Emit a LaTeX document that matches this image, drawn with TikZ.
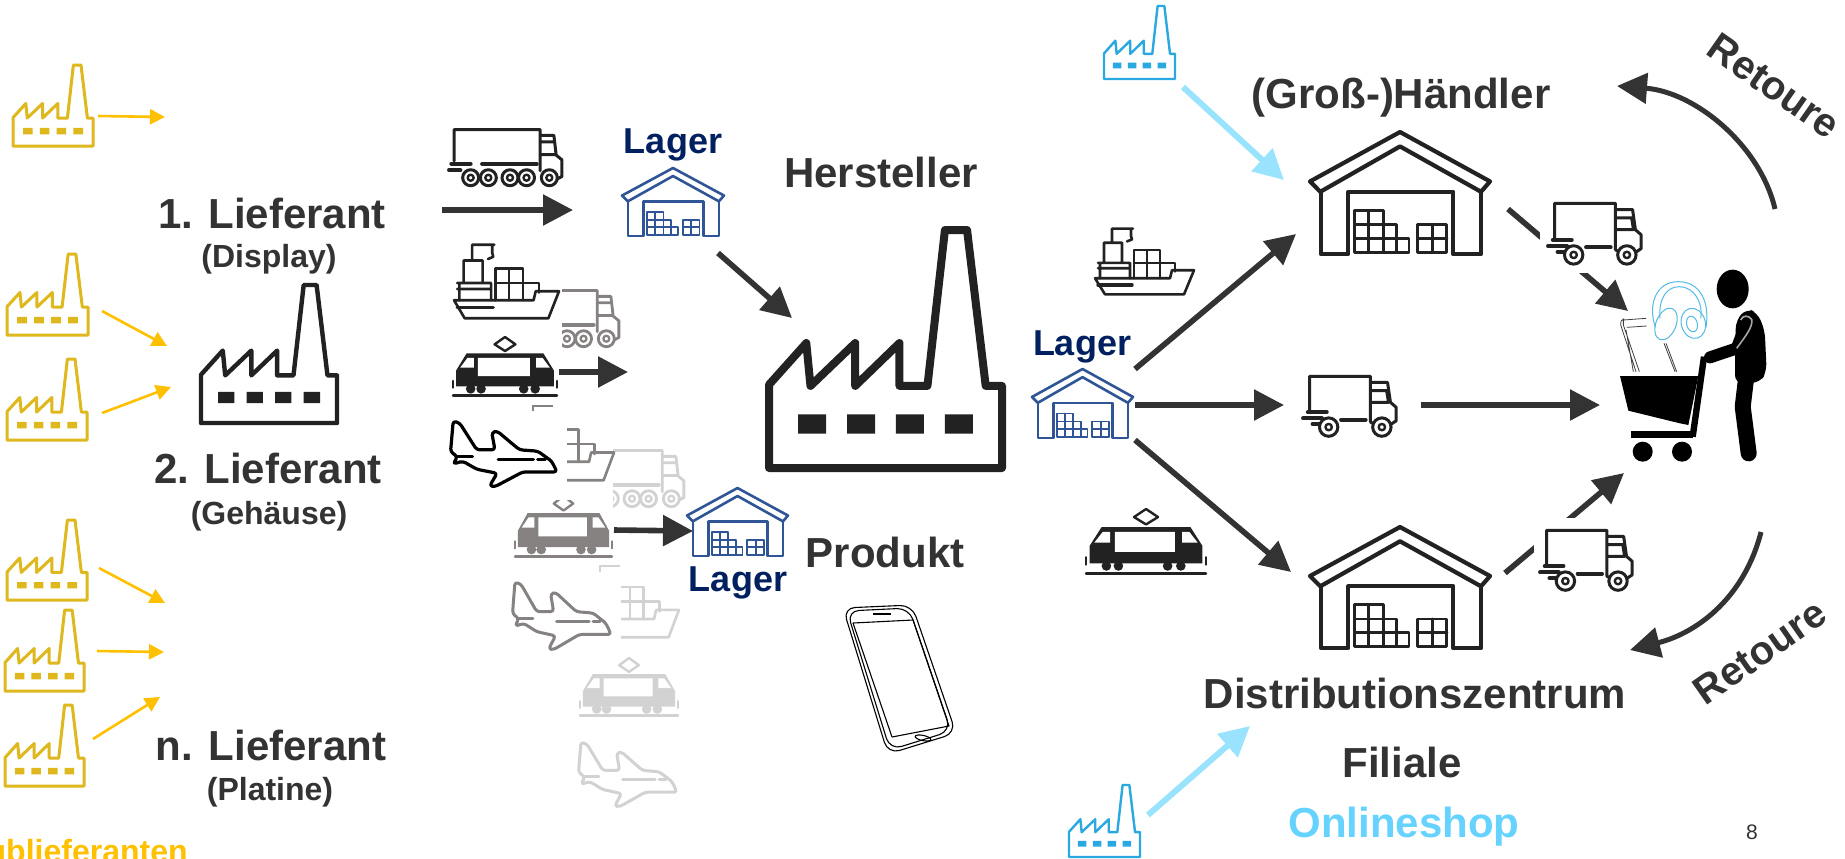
\documentclass[tikz,border=0pt]{standalone}
\usepackage{fontspec}
\setmainfont{Liberation Sans}
\usetikzlibrary{arrows.meta}
\definecolor{txt}{HTML}{333333}
\definecolor{navy}{HTML}{002060}
\definecolor{whblue}{HTML}{2F5597}
\definecolor{amber}{HTML}{FFC000}
\definecolor{facy}{HTML}{DFB81E}
\definecolor{facb}{HTML}{29A9E0}
\definecolor{skyarrow}{HTML}{99E3FF}
\definecolor{sky}{HTML}{66D3FF}
\definecolor{midgr}{HTML}{868282}
\definecolor{ligr}{HTML}{D2D2D2}
\definecolor{icon}{HTML}{222222}
\tikzset{
  lab/.style={font=\bfseries\fontsize{21}{25}\selectfont,text=txt,anchor=base,inner sep=0pt},
  retlab/.style={font=\bfseries\fontsize{20}{24}\selectfont,text=txt,anchor=center,inner sep=0pt},
  sublab/.style={font=\bfseries\fontsize{16}{19}\selectfont,text=txt,anchor=base,inner sep=0pt},
  lagerlab/.style={font=\bfseries\fontsize{18}{21}\selectfont,text=navy,anchor=base,inner sep=0pt},
  yarrow/.style={draw=amber,line width=1.3pt,-{Triangle[length=7.5pt,width=7.5pt]},fill=amber},
  darrow/.style={draw=txt,line width=2.8pt,-{Triangle[length=15pt,width=15pt]}},
  rarrow/.style={draw=txt,line width=2.5pt,-{Triangle[length=15pt,width=15pt]}},
  barrow/.style={draw=skyarrow,line width=3pt,-{Triangle[length=15pt,width=15pt]}},
  whitebox/.style={fill=white,draw=none},
  iconline/.style={line join=round,line cap=round}
}
% x y W H linewidth colour
\newcommand{\factoryicon}[6]{%
\begin{scope}[shift={(#1,#2)},x=#3*0.5pt,y=-#4*0.5pt,iconline]
\draw[#6,line width=#5] (0,1) -- (0,.65) -- (.16,.475) -- (.178,.655) -- (.37,.475) -- (.37,.655) -- (.56,.475) -- (.56,.655) -- (.68,.655) -- (.755,0) -- (.85,0) -- (.93,.655) -- (1,.655) -- (1,1) -- cycle;
\fill[#6] (.125,.775) rectangle (.245,.855) (.335,.775) rectangle (.455,.855) (.545,.775) rectangle (.665,.855) (.755,.775) rectangle (.875,.855);
\end{scope}}
\newcommand{\warehouseicon}[6]{%
\begin{scope}[shift={(#1,#2)},x=#3*0.5pt,y=-#4*0.5pt,iconline]
\draw[#6,line width=#5] (0,.405) -- (.5,0) -- (1,.405) -- (.95,.49) -- (.5,.118) -- (.057,.49) -- cycle;
\draw[#6,line width=#5] (.06,.49) -- (.06,1) -- (.213,1) -- (.213,.49) -- (.796,.49) -- (.796,1) -- (.95,1) -- (.95,.49);
\draw[#6,line width=.7*#5] (.248,.985) -- (.248,.644) -- (.406,.644) -- (.406,.76) -- (.483,.76) -- (.483,.87) -- (.55,.87) -- (.55,.985) -- cycle;
\draw[#6,line width=.7*#5] (.327,.644) -- (.327,.985) (.406,.76) -- (.406,.985) (.483,.87) -- (.483,.985) (.248,.76) -- (.406,.76) (.248,.87) -- (.483,.87);
\draw[#6,line width=.7*#5] (.597,.76) rectangle (.76,.985) (.68,.76) -- (.68,.985) (.597,.87) -- (.76,.87);
\end{scope}}
\newcommand{\smalltruck}[6]{%
\begin{scope}[shift={(#1,#2)},x=#3*0.5pt,y=-#4*0.5pt,iconline]
\draw[#6,line width=#5] (.07,.58) -- (.07,.02) -- (.71,.02) -- (.71,.76) (.71,.12) -- (.89,.12) -- (.92,.44) -- (.98,.52) -- (.98,.74) -- (.92,.8) (.72,.25) -- (.88,.25) -- (.9,.44) -- (.71,.44) (.76,.8) -- (.71,.76);
\draw[#6,line width=1.3*#5] (.05,.6) -- (.25,.6) (0,.7) -- (.2,.7) (.1,.79) -- (.16,.79) (.4,.72) -- (.66,.72);
\foreach \wx in {.27,.83}{\draw[#6,line width=#5,fill=white] (\wx,.84) circle[radius=4.6pt]; \draw[#6,line width=.8*#5] (\wx,.84) circle[radius=1.6pt];}
\end{scope}}
\newcommand{\longtruck}[6]{%
\begin{scope}[shift={(#1,#2)},x=#3*0.5pt,y=-#4*0.5pt,iconline]
\draw[#6,line width=#5] (.045,.55) -- (.045,.01) -- (.8,.01) -- (.8,.72) (.8,.11) -- (.92,.11) -- (.94,.45) -- (.99,.53) -- (.99,.82) -- (.95,.86) (.8,.22) -- (.92,.22) (.8,.44) -- (.94,.44);
\draw[#6,line width=1.3*#5] (.02,.6) -- (.19,.6) (0,.71) -- (.1,.71) (.29,.6) -- (.77,.6);
\foreach \wx in {.19,.345,.535,.68,.88}{\draw[#6,line width=#5,fill=white] (\wx,.84) circle[radius=4pt]; \draw[#6,line width=.8*#5] (\wx,.84) circle[radius=1.5pt];}
\end{scope}}
\newcommand{\shipicon}[6]{%
\begin{scope}[shift={(#1,#2)},x=#3*0.5pt,y=-#4*0.5pt,iconline]
\draw[#6,line width=#5] (.01,.75) -- (.76,.75) -- (.78,.63) -- (1,.63) -- (.9,.99) -- (.11,.99) -- cycle;
\draw[#6,line width=1.3*#5] (.04,.85) -- (.38,.85);
\draw[#6,line width=#5] (.04,.52) -- (.36,.52) -- (.36,.75) (.06,.52) -- (.06,.75) (.04,.6) -- (.36,.6) (.1,.52) -- (.1,.22) -- (.28,.22) -- (.28,.52) (.18,.22) -- (.18,.01) -- (.39,.01) (.37,.01) -- (.37,.12) -- (.38,.17) -- (.33,.2);
\draw[#6,line width=#5] (.4,.75) -- (.4,.33) -- (.66,.33) -- (.66,.52) -- (.81,.52) -- (.81,.65) (.53,.33) -- (.53,.75) (.66,.52) -- (.66,.75) (.4,.52) -- (.66,.52);
\end{scope}}
\newcommand{\trainicon}[6]{%
\begin{scope}[shift={(#1,#2)},x=#3*0.5pt,y=-#4*0.5pt,iconline]
\draw[#6,line width=#5] (.5,0) -- (.6,.12) -- (.5,.23) -- (.4,.12) -- cycle;
\fill[#6] (.13,.27) -- (.87,.27) -- (.97,.55) -- (.97,.81) -- (.03,.81) -- (.03,.55) -- cycle;
\fill[white] (.24,.34) rectangle (.74,.64) (.07,.5) -- (.14,.34) -- (.2,.34) -- (.2,.5) -- cycle (.8,.34) -- (.86,.34) -- (.93,.5) -- (.8,.5) -- cycle;
\fill[#6] (.17,.85) circle[radius=2.4pt] (.27,.85) circle[radius=2.4pt] (.68,.85) circle[radius=2.4pt] (.79,.85) circle[radius=2.4pt];
\draw[#6,line width=#5] (0,.96) -- (1,.96) (0,.72) -- (0,.83) (1,.72) -- (1,.83);
\end{scope}}
\newcommand{\planeicon}[6]{%
\begin{scope}[shift={(#1,#2)},x=#3*0.5pt,y=-#4*0.5pt,iconline]
\draw[#6,line width=#5,rounded corners=1.5pt] (.005,.46) -- (.03,0) -- (.09,.03) -- (.25,.43) -- (.42,.43) -- (.39,.17) -- (.44,.15) -- (.65,.43) -- (.82,.45) -- (.95,.6) -- (1,.76) -- (.68,.76) -- (.42,.98) -- (.37,.97) -- (.44,.78) -- (.25,.72) -- (.12,.6) -- (.03,.64) -- (.07,.53) -- cycle;
\draw[#6,line width=#5] (.45,.57) -- (.78,.57) (.82,.57) -- (.89,.57) (.07,.53) -- (.21,.53);
\end{scope}}
\begin{document}
\begin{tikzpicture}[x=0.5pt,y=-0.5pt]
\useasboundingbox (0,0) rectangle (1845,858);
\fill[white] (0,0) rectangle (1845,858);
% ---------- factories
\factoryicon{13}{65}{80}{81}{1.5pt}{facy}
\factoryicon{7}{254}{81}{81}{1.5pt}{facy}
\factoryicon{7}{359}{80}{81}{1.5pt}{facy}
\factoryicon{7}{520}{80}{80}{1.5pt}{facy}
\factoryicon{5}{610}{79}{81}{1.5pt}{facy}
\factoryicon{5}{705}{79}{81}{1.5pt}{facy}
\factoryicon{201}{285}{136}{138}{2.2pt}{icon}
\factoryicon{769}{230}{233}{238}{4pt}{icon}
\factoryicon{1104}{6}{71}{73}{1.2pt}{facb}
\factoryicon{1069}{785}{71}{72}{1.2pt}{facb}
% ---------- coordinates of the connector ends
\coordinate (y1a) at (98,116); \coordinate (y1b) at (165,117);
\coordinate (y2a) at (102,311); \coordinate (y2b) at (167,346);
\coordinate (y3a) at (102,413); \coordinate (y3b) at (171,387);
\coordinate (y4a) at (99,568); \coordinate (y4b) at (165,603);
\coordinate (y5a) at (97,651); \coordinate (y5b) at (164,652);
\coordinate (y6a) at (93,739); \coordinate (y6b) at (160,697);
\coordinate (d1a) at (442,210); \coordinate (d1b) at (573,210);
\coordinate (d2a) at (559,372); \coordinate (d2b) at (628,372);
\coordinate (d3a) at (718,253); \coordinate (d3b) at (792,318);
\coordinate (d4a) at (614,530); \coordinate (d4b) at (693,531);
\coordinate (d5a) at (1135,369); \coordinate (d5b) at (1296,234);
\coordinate (d6a) at (1135,405); \coordinate (d6b) at (1284,405);
\coordinate (d7a) at (1421,405); \coordinate (d7b) at (1600,405);
\coordinate (d8a) at (1135,440); \coordinate (d8b) at (1291,572);
\coordinate (d9a) at (1508,209); \coordinate (d9b) at (1628,311);
\coordinate (d10a) at (1505,573); \coordinate (d10b) at (1624,473);
\coordinate (r1a) at (1775,209); \coordinate (r1b) at (1617,86);
\coordinate (r2a) at (1761,532); \coordinate (r2b) at (1630,650);
\coordinate (b1a) at (1183,87); \coordinate (b1b) at (1284,180);
\coordinate (b2a) at (1148,815); \coordinate (b2b) at (1250,726);
% ---------- connectors
\draw[yarrow] (y1a) -- (y1b);
\draw[yarrow] (y2a) -- (y2b);
\draw[yarrow] (y3a) -- (y3b);
\draw[yarrow] (y4a) -- (y4b);
\draw[yarrow] (y5a) -- (y5b);
\draw[yarrow] (y6a) -- (y6b);
\draw[darrow] (d1a) -- (d1b);
\draw[darrow] (d3a) -- (d3b);
\draw[darrow] (d5a) -- (d5b);
\draw[darrow] (d6a) -- (d6b);
\draw[darrow] (d7a) -- (d7b);
\draw[darrow] (d8a) -- (d8b);
\draw[darrow] (d9a) -- (d9b);
\draw[darrow] (d10a) -- (d10b);
\draw[rarrow] (r1a) .. controls (1760,145) and (1695,92) .. (r1b);
\draw[rarrow] (r2a) .. controls (1745,595) and (1700,632) .. (r2b);
\draw[barrow] (b1a) -- (b1b);
\draw[barrow] (b2a) -- (b2b);
% ---------- white backgrounds of the truck pictures
\fill[whitebox] (1540,198) rectangle (1645,273);
\fill[whitebox] (1534,518) rectangle (1640,595);
% ---------- warehouses
\warehouseicon{1310}{132}{180}{122}{2.1pt}{icon}
\warehouseicon{1310}{527}{180}{121}{2.1pt}{icon}
\warehouseicon{622}{168}{102}{68}{1.3pt}{whblue}
\warehouseicon{687}{488}{101}{68}{1.3pt}{whblue}
\warehouseicon{1032}{369}{101}{69}{1.3pt}{whblue}
% ---------- trucks
\longtruck{449}{129}{114}{58}{1.5pt}{icon}
\begin{scope}\clip (562,285) rectangle (625,352);\longtruck{506}{290}{114}{58}{1.4pt}{midgr}\end{scope}
\begin{scope}\clip (613,445) rectangle (690,512);\longtruck{571}{450}{114}{58}{1.4pt}{ligr}\end{scope}
\smalltruck{1548}{202}{95}{63}{1.5pt}{icon}
\smalltruck{1303}{375}{95}{62}{1.5pt}{icon}
\smalltruck{1540}{529}{94}{62}{1.5pt}{icon}
% ---------- ships
\shipicon{453}{244}{106}{75}{1.3pt}{icon}
\shipicon{1094}{228}{100}{67}{1.3pt}{icon}
\begin{scope}\clip (567,425) rectangle (620,485);\shipicon{510}{404}{104}{77}{1.3pt}{midgr}\end{scope}
\begin{scope}\clip (621,580) rectangle (685,642);\shipicon{575}{562}{104}{76}{1.3pt}{ligr}\end{scope}
% ---------- trains
\trainicon{453}{337}{104}{61}{1.2pt}{icon}
\trainicon{1086}{509}{120}{67}{1.2pt}{icon}
\begin{scope}\clip (505,500) rectangle (620,565);\trainicon{515}{496}{97}{63}{1.2pt}{midgr}\end{scope}
\trainicon{580}{658}{98}{60}{1.2pt}{ligr}
\draw[midgr,line width=1.2pt] (533,411) -- (533,406) -- (553,406);
\draw[ligr,line width=1.2pt] (600,572) -- (600,566) -- (620,566);
% ---------- planes
\planeicon{450}{421}{107}{67}{1.6pt}{black}
\planeicon{512}{582}{99}{69}{1.5pt}{midgr}
\planeicon{578}{742}{99}{66}{1.5pt}{ligr}
\draw[darrow] (d2a) -- (d2b);
\draw[darrow] (d4a) -- (d4b);
% ---------- product phone
\begin{scope}[line join=round,line width=.55pt,black]
\draw[rounded corners=6pt] (843,608) -- (912,605) -- (956,733) -- (888,754) -- cycle;
\draw[rounded corners=6pt] (847,611) -- (909,608) -- (951,731) -- (890,750) -- cycle;
\draw (853,623) -- (913,620) -- (949,726) -- (892,737) -- cycle;
\draw[line width=.9pt] (873,614) -- (891,614);
\draw[rotate around={-12:(923,738)}] (923,738) ellipse[x radius=8,y radius=2.6];
\end{scope}
% ---------- shopper (scope coordinates are 1/3 pixel)
\begin{scope}[xshift=780pt,yshift=-120pt,x=0.16667pt,y=-0.16667pt,line join=round]
\draw[black!75,line width=.4pt] (238,395) -- (190,255) -- (190,240) -- (258,235) (228,395) -- (182,255) -- (183,243) -- (192,236) (200,262) -- (260,258) (220,395) -- (198,270) (312,310) -- (345,395) (318,310) -- (350,395);
\begin{scope}[draw=facb!80,line width=.5pt]
\draw (286,262) .. controls (262,190) and (290,125) .. (355,125) .. controls (420,125) and (450,185) .. (438,262);
\draw (300,235) .. controls (295,175) and (320,140) .. (358,140) .. controls (400,140) and (430,185) .. (422,235);
\draw[rotate around={-22:(318,252)}] (318,252) ellipse[x radius=30,y radius=50];
\draw[rotate around={15:(400,250)}] (400,250) ellipse[x radius=36,y radius=46];
\draw[rotate around={15:(396,252)}] (396,252) ellipse[x radius=16,y radius=24];
\end{scope}
\fill[black] (518,147) ellipse[x radius=48,y radius=58];
\fill[black,rounded corners=4pt] (528,240) -- (560,205) -- (592,218) -- (614,270) -- (620,395) -- (600,428) -- (525,430) -- (525,330) -- cycle;
\draw[black,line width=6pt,line cap=round] (555,260) -- (530,325) -- (450,352);
\draw[black,line width=8pt,line cap=round] (560,400) -- (548,500) -- (566,640);
\draw[gray!70,line width=.8pt] (530,325) .. controls (555,290) and (580,260) .. (575,238) .. controls (565,225) and (548,225) .. (542,240);
\fill[black] (180,408) -- (415,408) -- (385,555) -- (360,550) -- (205,512) -- cycle;
\fill[black] (212,572) rectangle (400,595);
\draw[black,line width=3.2pt] (432,350) -- (398,590);
\fill[black] (248,635) circle[radius=5pt] (366,635) circle[radius=5pt];
\end{scope}
% ---------- labels
\node[lab] (l1) at (272,228) {1. Lieferant};
\node[sublab] (l1s) at (269,267) {(Display)};
\node[lab] (l2) at (268,483) {2. Lieferant};
\node[sublab] (l2s) at (269,524) {(Gehäuse)};
\node[lab] (ln) at (271,760) {n. Lieferant};
\node[sublab] (lns) at (270,800) {(Platine)};
\node[sublab,text=amber,anchor=base east] (sub) at (188,862) {Sublieferanten};
\node[lagerlab] (lag1) at (673,153) {Lager};
\node[lagerlab] (lag2) at (738,591) {Lager};
\node[lagerlab] (lag3) at (1082,355) {Lager};
\node[lab] (her) at (881,187) {Hersteller};
\node[lab] (pro) at (885,567) {Produkt};
\node[lab] (hae) at (1401,108) {(Groß-)Händler};
\node[lab] (dz) at (1415,708) {Distributionszentrum};
\node[lab] (fil) at (1402,777) {Filiale};
\node[lab,text=sky] (on) at (1404,837) {Onlineshop};
\node[inner sep=0pt,anchor=base,font=\fontsize{10.5}{12}\selectfont,text=txt] (pg) at (1752,839) {8};
\node[retlab,rotate=-35] (ret1) at (1774,86) {Retoure};
\node[retlab,rotate=35] (ret2) at (1760,652) {Retoure};
\end{tikzpicture}
\end{document}
